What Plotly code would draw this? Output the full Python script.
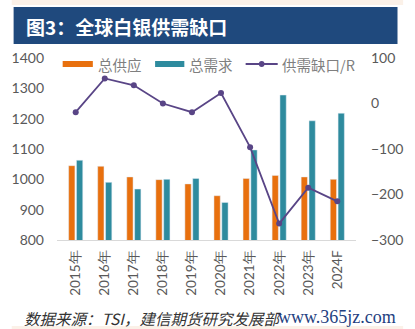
import plotly.graph_objects as go

years = ["2015年", "2016年", "2017年", "2018年", "2019年", "2020年", "2021年", "2022年", "2023年", "2024F"]
supply = [1045, 1043, 1008, 999, 985, 946, 1003, 1013, 1008, 1000]
demand = [1063, 990, 968, 1000, 1003, 924, 1097, 1278, 1193, 1218]
gap = [-19, 55, 40, 0, -19, 23, -96, -264, -185, -215]

W, H = 415, 329
L, R, T, B = 48, 365, 58, 240  # plot area in pixels

def px(x):
    return (x - L) / (R - L)

def py(y):
    return (B - y) / (B - T)

ORANGE = "#E8700E"
TEAL = "#2E8B9E"
PURPLE = "#594586"
GREY = "#595959"
NUMFONT = "Lato"

fig = go.Figure()
fig.add_trace(go.Bar(x=years, y=supply, name="总供应", marker_color=ORANGE, yaxis="y"))
fig.add_trace(go.Bar(x=years, y=demand, name="总需求", marker_color=TEAL, yaxis="y"))
fig.add_trace(go.Scatter(x=years, y=gap, name="供需缺口/R", mode="lines+markers",
                         line=dict(color=PURPLE, width=1.8),
                         marker=dict(color=PURPLE, size=6), yaxis="y2"))

shapes = []
annotations = []
# top beige band and title bar
shapes.append(dict(type="rect", xref="paper", yref="paper", x0=px(0), x1=px(W), y0=py(0), y1=py(5),
                   fillcolor="#FBF1E8", line_width=0, layer="below"))
shapes.append(dict(type="rect", xref="paper", yref="paper", x0=px(2), x1=px(409), y0=py(44), y1=py(7),
                   fillcolor="#1F497D", line_width=0, layer="below"))
shapes.append(dict(type="rect", xref="paper", yref="paper", x0=px(0), x1=px(W), y0=py(329), y1=py(326),
                   fillcolor="#FBF1E8", line_width=0, layer="below"))
annotations.append(dict(xref="paper", yref="paper", x=px(13), y=py(27), xanchor="left", yanchor="middle",
                        text="<b>图3：全球白银供需缺口</b>", showarrow=False,
                        font=dict(family="Noto Sans CJK SC", size=19, color="white")))

# custom legend
ly = 64
LF = dict(family="Noto Sans CJK SC", size=14.5, color="#7F7F7F")
shapes.append(dict(type="rect", xref="paper", yref="paper", x0=px(54), x1=px(86), y0=py(ly + 3), y1=py(ly - 3),
                   fillcolor=ORANGE, line_width=0))
annotations.append(dict(xref="paper", yref="paper", x=px(89), y=py(ly), xanchor="left", yanchor="middle",
                        text="总供应", showarrow=False, font=LF))
shapes.append(dict(type="rect", xref="paper", yref="paper", x0=px(152), x1=px(183), y0=py(ly + 3), y1=py(ly - 3),
                   fillcolor=TEAL, line_width=0))
annotations.append(dict(xref="paper", yref="paper", x=px(186), y=py(ly), xanchor="left", yanchor="middle",
                        text="总需求", showarrow=False, font=LF))
shapes.append(dict(type="line", xref="paper", yref="paper", x0=px(248), x1=px(282), y0=py(ly), y1=py(ly),
                   line=dict(color=PURPLE, width=1.8)))
shapes.append(dict(type="circle", xref="paper", yref="paper", x0=px(262), x1=px(268), y0=py(ly + 3), y1=py(ly - 3),
                   fillcolor=PURPLE, line_width=0))
annotations.append(dict(xref="paper", yref="paper", x=px(284), y=py(ly), xanchor="left", yanchor="middle",
                        text="供需缺口/R", showarrow=False, font=LF))

# footer
annotations.append(dict(xref="paper", yref="paper", x=px(11), y=py(318), xanchor="left", yanchor="middle",
                        text="<i>数据来源：TSI，建信期货研究发展部</i>", showarrow=False,
                        font=dict(family="Noto Sans CJK SC", size=15.5, color="#333333")))
annotations.append(dict(xref="paper", yref="paper", x=px(409), y=py(317), xanchor="right", yanchor="middle",
                        text="www.365jz.com", showarrow=False,
                        font=dict(family="Liberation Serif", size=18, color="#1F3F7F")))

fig.update_layout(
    width=W, height=H,
    margin=dict(l=L, r=W - R, t=T, b=H - B, pad=0),
    paper_bgcolor="white", plot_bgcolor="white",
    showlegend=False,
    barmode="group", bargap=0.46, bargroupgap=0.2,
    font=dict(family="Noto Sans CJK SC", color=GREY, size=12),
    xaxis=dict(showline=True, linecolor="#D9D9D9", linewidth=1, ticks="", tickangle=-90,
               tickfont=dict(family=NUMFONT, size=13.5, color=GREY), showgrid=False,
               ticklabelstandoff=4),
    yaxis=dict(range=[800, 1400], dtick=100, showgrid=False, zeroline=False, ticks="",
               tickfont=dict(family=NUMFONT, size=14, color=GREY), ticklabelstandoff=12),
    yaxis2=dict(range=[-300, 100], dtick=100, overlaying="y", side="right", showgrid=False,
                zeroline=False, ticks="", tickfont=dict(family=NUMFONT, size=14, color=GREY),
                ticklabelstandoff=14),
    shapes=shapes, annotations=annotations,
)

fig.write_html("out.html")
